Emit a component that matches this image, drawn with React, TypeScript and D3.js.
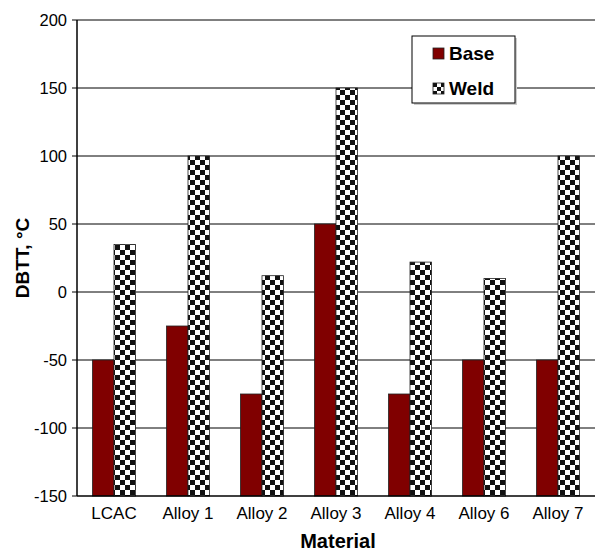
import { useEffect, useRef } from "react";
import * as d3 from "d3";

const MATERIALS = ["LCAC", "Alloy 1", "Alloy 2", "Alloy 3", "Alloy 4", "Alloy 6", "Alloy 7"];
const BASE = [-50, -25, -75, 50, -75, -50, -50];
const WELD = [35, 100, 12, 150, 22, 10, 100];
const Y_TICKS = [-150, -100, -50, 0, 50, 100, 150, 200];

const FONT = "'Liberation Sans', Arial, sans-serif";
const BASE_COLOR = "#800000";

export default function App() {
  const svgRef = useRef<SVGSVGElement>(null);

  useEffect(() => {
    if (!svgRef.current) return;
    const width = 596;
    const height = 553;
    const left = 77;
    const right = 595;
    const top = 20;
    const bottom = 496;

    const svg = d3.select(svgRef.current);
    svg.selectAll("*").remove();
    svg.attr("width", width).attr("height", height);

    // checker pattern for weld bars
    const defs = svg.append("defs");
    const pat = defs.append("pattern")
      .attr("id", "checker")
      .attr("patternUnits", "userSpaceOnUse")
      .attr("width", 10).attr("height", 10);
    pat.append("rect").attr("width", 10).attr("height", 10).attr("fill", "#fff");
    pat.append("rect").attr("width", 5).attr("height", 5).attr("fill", "#111");
    pat.append("rect").attr("x", 5).attr("y", 5).attr("width", 5).attr("height", 5).attr("fill", "#111");

    const x = d3.scaleBand().domain(MATERIALS).range([left, right]);
    const y = d3.scaleLinear().domain([-150, 200]).range([bottom, top]);
    const barW = 21.5;

    // gridlines
    svg.append("g")
      .selectAll("line")
      .data(Y_TICKS.filter(t => t > -150))
      .join("line")
      .attr("x1", left).attr("x2", right)
      .attr("y1", d => y(d)).attr("y2", d => y(d))
      .attr("stroke", "#000").attr("stroke-width", 1);

    const g = svg.append("g");
    MATERIALS.forEach((m, i) => {
      const cx = x(m)! + x.bandwidth() / 2;
      g.append("rect")
        .attr("x", cx - barW).attr("y", y(BASE[i]))
        .attr("width", barW).attr("height", y(-150) - y(BASE[i]))
        .attr("fill", BASE_COLOR).attr("stroke", "#222").attr("stroke-width", 0.8);
      g.append("rect")
        .attr("x", cx).attr("y", y(WELD[i]))
        .attr("width", barW).attr("height", y(-150) - y(WELD[i]))
        .attr("fill", "url(#checker)").attr("stroke", "#222").attr("stroke-width", 0.8);
    });

    // axes
    svg.append("line").attr("x1", left).attr("x2", left).attr("y1", top).attr("y2", bottom)
      .attr("stroke", "#000").attr("stroke-width", 1.5);
    svg.append("line").attr("x1", left).attr("x2", right).attr("y1", bottom).attr("y2", bottom)
      .attr("stroke", "#000").attr("stroke-width", 1.5);

    svg.append("g").selectAll("line").data(Y_TICKS).join("line")
      .attr("x1", left - 5).attr("x2", left)
      .attr("y1", d => y(d)).attr("y2", d => y(d))
      .attr("stroke", "#000");

    svg.append("g").selectAll("text").data(Y_TICKS).join("text")
      .attr("x", 67).attr("y", d => y(d) + 6)
      .attr("text-anchor", "end")
      .attr("font-family", FONT).attr("font-size", 16.5)
      .text(d => d);

    svg.append("g").selectAll("text").data(MATERIALS).join("text")
      .attr("x", d => x(d)! + x.bandwidth() / 2).attr("y", 519)
      .attr("text-anchor", "middle")
      .attr("font-family", FONT).attr("font-size", 17)
      .text(d => d);

    svg.append("text")
      .attr("transform", `translate(29,${(top + bottom) / 2}) rotate(-90)`)
      .attr("text-anchor", "middle")
      .attr("font-family", FONT).attr("font-size", 19).attr("font-weight", "bold")
      .text("DBTT, °C");

    svg.append("text")
      .attr("x", (left + right) / 2 + 2).attr("y", 548)
      .attr("text-anchor", "middle")
      .attr("font-family", FONT).attr("font-size", 20).attr("font-weight", "bold")
      .text("Material");

    // legend
    const lg = svg.append("g").attr("transform", "translate(412,36)");
    lg.append("rect").attr("x", 2).attr("y", 2).attr("width", 103).attr("height", 67).attr("fill", "#ccc");
    lg.append("rect").attr("width", 103).attr("height", 67).attr("fill", "#fff")
      .attr("stroke", "#000").attr("stroke-width", 1);
    const items = [
      { label: "Base", fill: BASE_COLOR },
      { label: "Weld", fill: "url(#legchecker)" },
    ];
    const lp = defs.append("pattern")
      .attr("id", "legchecker")
      .attr("patternUnits", "userSpaceOnUse")
      .attr("width", 8).attr("height", 8)
      .attr("x", 1).attr("y", 3);
    lp.append("rect").attr("width", 8).attr("height", 8).attr("fill", "#fff");
    lp.append("rect").attr("width", 4).attr("height", 4).attr("fill", "#111");
    lp.append("rect").attr("x", 4).attr("y", 4).attr("width", 4).attr("height", 4).attr("fill", "#111");
    items.forEach((it, i) => {
      const yy = 12 + i * 35;
      lg.append("rect").attr("x", 21).attr("y", yy).attr("width", 11).attr("height", 11)
        .attr("fill", it.fill).attr("stroke", "#222").attr("stroke-width", 0.8);
      lg.append("text").attr("x", 37).attr("y", yy + 12)
        .attr("font-family", FONT).attr("font-size", 19).attr("font-weight", "bold")
        .text(it.label);
    });
  }, []);

  return <svg ref={svgRef} style={{ position: "absolute", left: 0, top: 0 }} />;
}
